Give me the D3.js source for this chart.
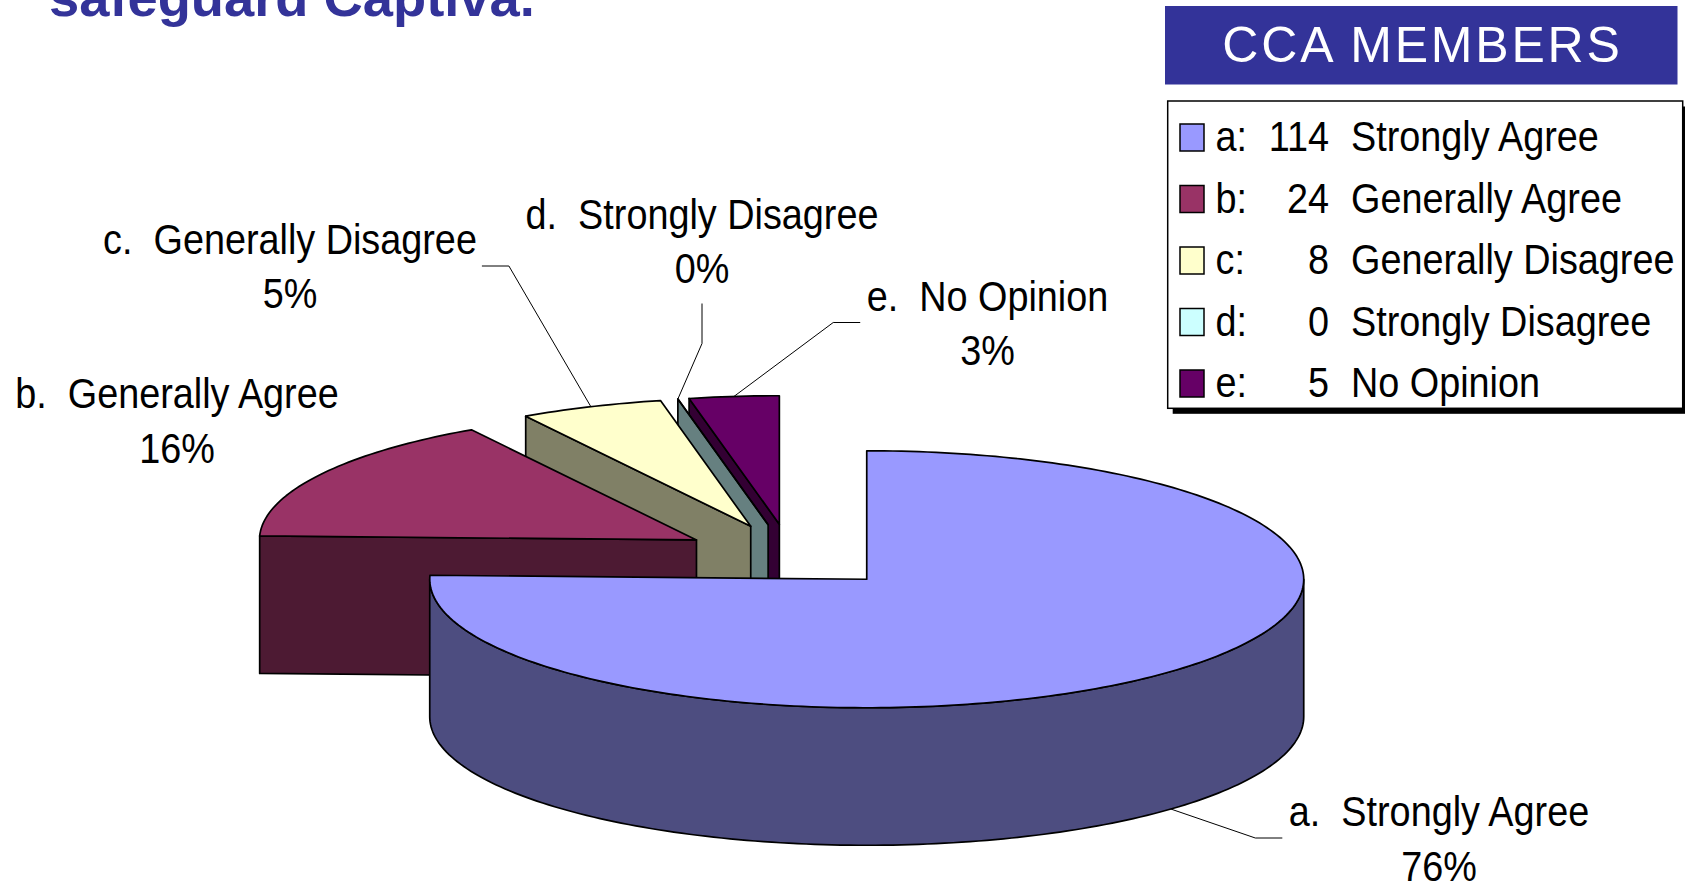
<!DOCTYPE html>
<html>
<head>
<meta charset="utf-8">
<script src="https://cdn.jsdelivr.net/npm/d3@7"></script>
<style>
  html, body { margin: 0; padding: 0; background: #fff; overflow: hidden; }
  svg { display: block; }
  text { font-family: 'Liberation Sans', Arial, sans-serif; }
</style>
</head>
<body>
<div id="chart"></div>
<script>
// chart data
const LETTERS = ['a', 'b', 'c', 'd', 'e'];
const ANSWERS = ['Strongly Agree', 'Generally Agree', 'Generally Disagree', 'Strongly Disagree', 'No Opinion'];
const COUNTS = [114, 24, 8, 0, 5];
const TITLE = 'safeguard Captiva.';
const LEGEND_TITLE = 'CCA MEMBERS';

// frame + pie geometry
const FRAME_WIDTH = 1685;
const FRAME_HEIGHT = 886;
const PIE = {cx: 790.7, cy: 556.2, rx: 437, ry: 128.5, depth: 137.5, explode: 0.25};
const TEXT_SQUEEZE = 0.9;
const FONT_SIZE = 42;

// where excel put the data labels (layout only)
const LABEL_LAYOUT = {
    a: {x: 1439, y: 826, lead: 'left'},
    b: {x: 177, y: 408, lead: null},
    c: {x: 290, y: 253.5, lead: 'right'},
    d: {x: 702, y: 228.5, lead: 'below'},
    e: {x: 987.5, y: 310.5, lead: 'left'}
};

const TOP_COLOR = d3.scaleOrdinal()
    .domain(LETTERS)
    .range(['#9999ff', '#993366', '#ffffcc', '#ccffff', '#660066']);

// side walls are the top colour at half brightness
function sideColor(letter) {
    const c = d3.rgb(TOP_COLOR(letter));
    return d3.rgb(c.r / 2, c.g / 2, c.b / 2).formatHex();
}

const data = LETTERS.map((l, i) => ({letter: l, answer: ANSWERS[i], count: COUNTS[i]}));
const TOTAL = d3.sum(COUNTS);

// excel rounds the percentages so that they add up to 100 (largest remainder)
function roundedPercents(values) {
    const raw = values.map(v => 100 * v / d3.sum(values));
    const out = raw.map(Math.floor);
    let left = 100 - d3.sum(out);
    d3.range(raw.length)
        .sort((i, j) => (raw[j] - out[j]) - (raw[i] - out[i]))
        .forEach(i => { if (left > 0) { out[i] += 1; left -= 1; } });
    return out;
}
const PERCENTS = roundedPercents(COUNTS);

const FRAME = d3.select('#chart')
    .append('svg')
        .attr('width', FRAME_WIDTH)
        .attr('height', FRAME_HEIGHT);

// title line (top is cut off in the slide)
FRAME.append('text')
    .attr('x', 49)
    .attr('y', 15.5)
    .attr('font-size', 54.3)
    .attr('font-weight', 'bold')
    .attr('fill', '#333399')
    .text(TITLE);

// pie slices
const slices = d3.pie().sort(null).value(d => d.count)(data);

function project(apex, ang, r, z) {
    return [apex[0] + PIE.rx * r * Math.sin(ang), apex[1] - PIE.ry * r * Math.cos(ang) + z];
}

function arcPoints(apex, a0, a1, z) {
    const n = Math.max(2, Math.ceil(Math.abs(a1 - a0) / 0.02));
    return d3.range(n + 1).map(i => project(apex, a0 + (a1 - a0) * i / n, 1, z));
}

slices.forEach((s, i) => {
    s.mid = (s.startAngle + s.endAngle) / 2;
    s.apex = project([PIE.cx, PIE.cy], s.mid, PIE.explode, 0);
    s.percent = PERCENTS[i];
});

const line = d3.line();
const PIE_G = FRAME.append('g');

// back to front
const ordered = slices.slice().sort((p, q) => p.apex[1] - q.apex[1]);

ordered.forEach(s => {
    const g = PIE_G.append('g');
    const l = s.data.letter;
    const ap = s.apex;
    const apBottom = [ap[0], ap[1] + PIE.depth];

    // radial wall at start angle
    if (Math.cos(s.startAngle - Math.PI / 2) < -1e-6) {
        g.append('path')
            .attr('d', line([ap, project(ap, s.startAngle, 1, 0), project(ap, s.startAngle, 1, PIE.depth), apBottom]) + 'Z')
            .attr('fill', sideColor(l));
    }
    // radial wall at end angle
    if (Math.cos(s.endAngle + Math.PI / 2) < -1e-6) {
        g.append('path')
            .attr('d', line([ap, project(ap, s.endAngle, 1, 0), project(ap, s.endAngle, 1, PIE.depth), apBottom]) + 'Z')
            .attr('fill', sideColor(l));
    }
    // outer wall, only the front half shows
    const w0 = Math.max(s.startAngle, Math.PI / 2);
    const w1 = Math.min(s.endAngle, 3 * Math.PI / 2);
    if (w1 > w0) {
        const pts = arcPoints(ap, w0, w1, 0).concat(arcPoints(ap, w1, w0, PIE.depth));
        g.append('path')
            .attr('d', line(pts) + 'Z')
            .attr('fill', sideColor(l));
    }
    // top face
    const topPts = [ap].concat(arcPoints(ap, s.startAngle, s.endAngle, 0));
    g.append('path')
        .attr('d', line(topPts) + 'Z')
        .attr('fill', TOP_COLOR(l));

    g.selectAll('path')
        .attr('stroke', '#000')
        .attr('stroke-width', 1.7)
        .attr('stroke-linejoin', 'round');
});

// data labels + leader lines
const LABEL_G = FRAME.append('g');
slices.forEach(s => {
    const l = s.data.letter;
    const pos = LABEL_LAYOUT[l];
    const t = LABEL_G.append('g')
        .attr('transform', 'translate(' + pos.x + ',' + pos.y + ') scale(' + TEXT_SQUEEZE + ',1)');
    const first = t.append('text')
        .attr('text-anchor', 'middle')
        .attr('font-size', FONT_SIZE)
        .style('white-space', 'pre')
        .text(l + '.  ' + s.data.answer);
    t.append('text')
        .attr('y', 55)
        .attr('text-anchor', 'middle')
        .attr('font-size', FONT_SIZE)
        .text(s.percent + '%');

    if (!pos.lead) return;
    const half = first.node().getComputedTextLength() * TEXT_SQUEEZE / 2;
    // anchor sits on the rim at the slice's middle angle
    const anchor = project(s.apex, s.mid, 1, Math.cos(s.mid) < 0 ? PIE.depth : 0);
    let p0, p1;
    if (pos.lead === 'left') {
        p0 = [pos.x - half - 6.5, pos.y + 12];
        p1 = [p0[0] - 27, p0[1]];
    } else if (pos.lead === 'right') {
        p0 = [pos.x + half + 5, pos.y + 12.5];
        p1 = [p0[0] + 27, p0[1]];
    } else {
        p0 = [pos.x, pos.y + 75];
        p1 = [pos.x, pos.y + 115];
    }
    LABEL_G.append('path')
        .attr('d', line([p0, p1, anchor]))
        .attr('fill', 'none')
        .attr('stroke', '#000')
        .attr('stroke-width', 1);
});

// legend header
FRAME.append('rect')
    .attr('x', 1165)
    .attr('y', 6)
    .attr('width', 512.5)
    .attr('height', 78.5)
    .attr('fill', '#333399');
FRAME.append('text')
    .attr('x', 1422.5)
    .attr('y', 62)
    .attr('text-anchor', 'middle')
    .attr('font-size', 50)
    .attr('letter-spacing', 2.8)
    .attr('fill', '#fff')
    .text(LEGEND_TITLE);

// legend box with shadow
const LEG = {x: 1167.7, y: 101, w: 515, h: 307.3, row0: 151, rowStep: 61.5};
FRAME.append('rect')
    .attr('x', LEG.x + 5)
    .attr('y', LEG.y + 5.5)
    .attr('width', LEG.w)
    .attr('height', LEG.h)
    .attr('fill', '#000');
FRAME.append('rect')
    .attr('x', LEG.x)
    .attr('y', LEG.y)
    .attr('width', LEG.w)
    .attr('height', LEG.h)
    .attr('fill', '#fff')
    .attr('stroke', '#000')
    .attr('stroke-width', 1.5);

const rows = FRAME.selectAll('.legend-row')
    .data(data)
    .enter()
    .append('g')
        .attr('class', 'legend-row')
        .attr('transform', (d, i) => 'translate(0,' + (LEG.row0 + i * LEG.rowStep) + ')');

rows.append('rect')
    .attr('x', 1180)
    .attr('y', -27)
    .attr('width', 24)
    .attr('height', 27)
    .attr('fill', d => TOP_COLOR(d.letter))
    .attr('stroke', '#000')
    .attr('stroke-width', 1.5);

function squeezed(sel, x, anchor, txt) {
    sel.append('text')
        .attr('transform', 'translate(' + x + ',0) scale(' + TEXT_SQUEEZE + ',1)')
        .attr('text-anchor', anchor)
        .attr('font-size', FONT_SIZE)
        .text(txt);
}
squeezed(rows, 1215.5, 'start', d => d.letter + ':');
squeezed(rows, 1329, 'end', d => d.count);
squeezed(rows, 1351, 'start', d => d.answer);
</script>
</body>
</html>
